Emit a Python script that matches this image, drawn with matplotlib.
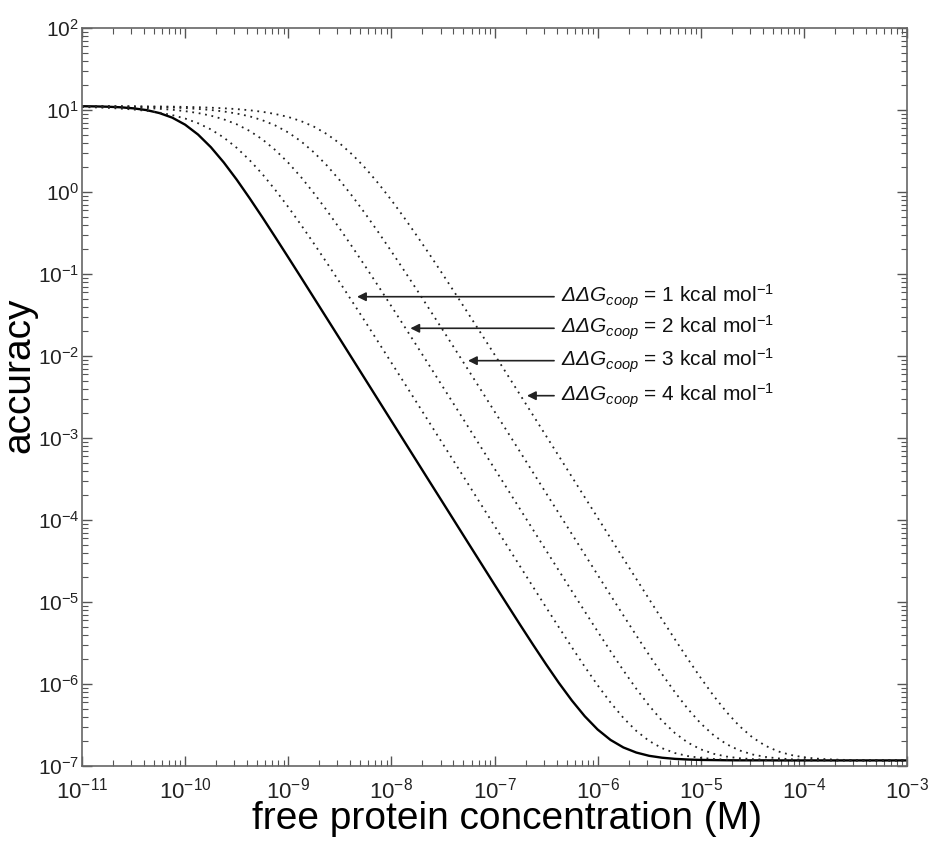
import numpy as np
import matplotlib
matplotlib.use('Agg')
import matplotlib.pyplot as plt
from matplotlib.ticker import FixedLocator, NullFormatter

# ---- data (log10 values) ----
log_conc = [-11.0, -10.875, -10.75, -10.625, -10.5, -10.375, -10.25, -10.125,
            -10.0, -9.875, -9.75, -9.625, -9.5, -9.375, -9.25, -9.125,
            -9.0, -8.875, -8.75, -8.625, -8.5, -8.375, -8.25, -8.125,
            -8.0, -7.875, -7.75, -7.625, -7.5, -7.375, -7.25, -7.125,
            -7.0, -6.875, -6.75, -6.625, -6.5, -6.375, -6.25, -6.125,
            -6.0, -5.875, -5.75, -5.625, -5.5, -5.375, -5.25, -5.125,
            -5.0, -4.875, -4.75, -4.625, -4.5, -4.375, -4.25, -4.125,
            -4.0, -3.875, -3.75, -3.625, -3.5, -3.375, -3.25, -3.125,
            -3.0]

log_acc_0 = [1.046, 1.044, 1.040, 1.033, 1.020, 0.999, 0.963, 0.907, 0.821, 0.701,
             0.546, 0.360, 0.151, -0.075, -0.310, -0.552, -0.797, -1.044, -1.293, -1.542,
             -1.791, -2.041, -2.291, -2.541, -2.791, -3.041, -3.291, -3.541, -3.790, -4.040,
             -4.290, -4.539, -4.788, -5.035, -5.281, -5.523, -5.760, -5.988, -6.201, -6.393,
             -6.555, -6.682, -6.774, -6.836, -6.876, -6.899, -6.913, -6.921, -6.926, -6.928,
             -6.930, -6.931, -6.931, -6.931, -6.932, -6.932, -6.932, -6.932, -6.932, -6.932,
             -6.932, -6.932, -6.932, -6.932, -6.932]

log_acc_1 = [1.036, 1.032, 1.026, 1.017, 1.006, 0.990, 0.968, 0.938, 0.896, 0.839,
             0.763, 0.664, 0.539, 0.389, 0.217, 0.024, -0.183, -0.403, -0.631, -0.865,
             -1.103, -1.345, -1.588, -1.834, -2.081, -2.328, -2.576, -2.825, -3.074, -3.323,
             -3.572, -3.822, -4.071, -4.320, -4.569, -4.818, -5.065, -5.310, -5.552, -5.789,
             -6.015, -6.226, -6.414, -6.572, -6.695, -6.783, -6.842, -6.879, -6.901, -6.914,
             -6.922, -6.926, -6.929, -6.930, -6.931, -6.931, -6.931, -6.932, -6.932, -6.932,
             -6.932, -6.932, -6.932, -6.932, -6.932]

log_acc_2 = [1.044, 1.042, 1.039, 1.035, 1.031, 1.024, 1.015, 1.003, 0.986, 0.963,
             0.931, 0.886, 0.826, 0.745, 0.641, 0.511, 0.357, 0.180, -0.016, -0.227,
             -0.448, -0.677, -0.912, -1.151, -1.393, -1.637, -1.883, -2.130, -2.378, -2.626,
             -2.875, -3.124, -3.373, -3.622, -3.872, -4.121, -4.370, -4.619, -4.867, -5.114,
             -5.359, -5.600, -5.835, -6.058, -6.265, -6.448, -6.599, -6.715, -6.797, -6.851,
             -6.885, -6.905, -6.916, -6.923, -6.927, -6.929, -6.930, -6.931, -6.931, -6.932,
             -6.932, -6.932, -6.932, -6.932, -6.932]

log_acc_3 = [1.047, 1.046, 1.045, 1.043, 1.041, 1.038, 1.035, 1.030, 1.023, 1.013,
             1.000, 0.982, 0.957, 0.923, 0.875, 0.811, 0.726, 0.617, 0.482, 0.323,
             0.142, -0.057, -0.270, -0.493, -0.724, -0.960, -1.199, -1.442, -1.686, -1.932,
             -2.179, -2.427, -2.676, -2.924, -3.173, -3.423, -3.672, -3.921, -4.171, -4.420,
             -4.669, -4.917, -5.164, -5.408, -5.648, -5.880, -6.101, -6.304, -6.481, -6.625,
             -6.734, -6.810, -6.859, -6.889, -6.907, -6.918, -6.924, -6.927, -6.929, -6.930,
             -6.931, -6.931, -6.932, -6.932, -6.932]

log_acc_4 = [1.048, 1.048, 1.047, 1.047, 1.046, 1.044, 1.043, 1.041, 1.038, 1.034,
             1.028, 1.021, 1.011, 0.997, 0.978, 0.951, 0.915, 0.864, 0.796, 0.706,
             0.592, 0.452, 0.288, 0.103, -0.099, -0.314, -0.539, -0.770, -1.007, -1.248,
             -1.491, -1.736, -1.982, -2.229, -2.477, -2.725, -2.974, -3.223, -3.473, -3.722,
             -3.971, -4.221, -4.470, -4.719, -4.966, -5.213, -5.456, -5.695, -5.926, -6.144,
             -6.342, -6.513, -6.650, -6.752, -6.822, -6.866, -6.894, -6.910, -6.919, -6.925,
             -6.928, -6.930, -6.931, -6.931, -6.931]

ddg_values = [1, 2, 3, 4]
x_exponents = [-11, -10, -9, -8, -7, -6, -5, -4, -3]
y_exponents = [-7, -6, -5, -4, -3, -2, -1, 0, 1, 2]

# ---- style ----
plt.rcParams['font.family'] = ['Liberation Sans', 'DejaVu Sans']
plt.rcParams['mathtext.fontset'] = 'custom'
plt.rcParams['mathtext.rm'] = 'Liberation Sans'
plt.rcParams['mathtext.it'] = 'Liberation Sans:italic'
plt.rcParams['mathtext.sf'] = 'Liberation Sans:italic'

fig = plt.figure(figsize=(9.29, 8.44), dpi=100)
ax = fig.add_axes([82/929, 1-766/844, 825/929, 738/844])

conc = 10.0 ** np.array(log_conc)
ax.plot(conc, 10.0 ** np.array(log_acc_0), color='black', lw=1.7)
for arr in [log_acc_1, log_acc_2, log_acc_3, log_acc_4]:
    ax.plot(conc, 10.0 ** np.array(arr), color='#222222', lw=1.3,
            linestyle=(0, (1, 2.6)))

ax.set_xscale('log'); ax.set_yscale('log')
ax.set_xlim(10.0 ** x_exponents[0], 10.0 ** x_exponents[-1])
ax.set_ylim(10.0 ** y_exponents[0], 10.0 ** y_exponents[-1])
ax.xaxis.set_major_locator(FixedLocator([10.0 ** e for e in x_exponents]))
ax.yaxis.set_major_locator(FixedLocator([10.0 ** e for e in y_exponents]))
ax.set_xticklabels([r'$\mathregular{10^{%d}}$' % e for e in x_exponents])
ax.set_yticklabels([r'$\mathregular{10^{%d}}$' % e for e in y_exponents])
ax.xaxis.set_minor_locator(FixedLocator([m * 10.0 ** e for e in x_exponents[:-1] for m in range(2, 10)]))
ax.yaxis.set_minor_locator(FixedLocator([m * 10.0 ** e for e in y_exponents[:-1] for m in range(2, 10)]))
ax.xaxis.set_minor_formatter(NullFormatter()); ax.yaxis.set_minor_formatter(NullFormatter())
ax.tick_params(which='both', direction='in', top=True, right=True,
               color='#555555', labelcolor='#222222', labelsize=16)
ax.tick_params(which='major', length=7, width=1)
ax.tick_params(axis='x', which='major', pad=8)
ax.tick_params(axis='y', which='major', labelsize=15, pad=2)
ax.tick_params(which='minor', length=4, width=0.8)
for s in ax.spines.values():
    s.set_color('#666666'); s.set_linewidth(1.2)

ax.set_xlabel('free protein concentration (M)', fontsize=28)
ax.set_ylabel('accuracy', fontsize=28)
ax.xaxis.set_label_coords((507 - 82) / 825, -0.047)
ax.yaxis.set_label_coords(-0.054, (766 - 375) / 738)

# annotations: arrow tips (log10 x, log10 y) and text start
tips = [(-8.333, -1.277), (-7.816, -1.662), (-7.257, -2.057), (-6.685, -2.484)]
text_logx = -6.355
for d, (tx, ty) in zip(ddg_values, tips):
    label = r'$\mathsf{\Delta\Delta G}_{\mathsf{coop}}$' + ' = %d kcal mol' % d + r'$^{\mathregular{-1}}$'
    ax.annotate(label, xy=(10.0 ** tx, 10.0 ** ty), xytext=(10.0 ** text_logx, 10.0 ** ty),
                ha='left', va='center', fontsize=15, color='#111111',
                arrowprops=dict(arrowstyle='-|>', color='#222222', lw=1.2,
                                shrinkA=3, shrinkB=0, mutation_scale=13))

fig.savefig('out.png', dpi=100)
